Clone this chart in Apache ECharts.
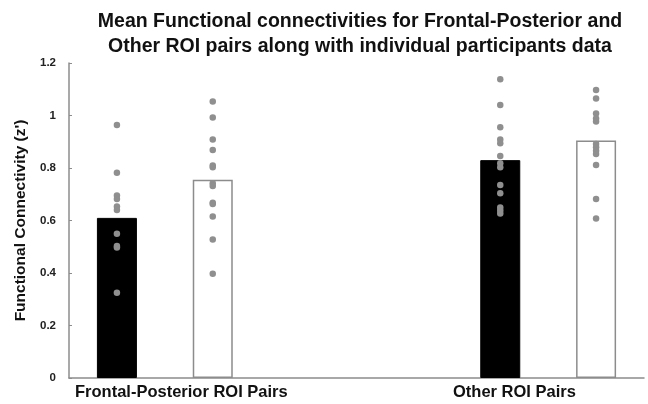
<!DOCTYPE html>
<html>
<head>
<meta charset="utf-8">
<script src="https://cdn.jsdelivr.net/npm/echarts@6/dist/echarts.min.js"></script>
<style>
html,body{margin:0;padding:0;background:#fff;}
#chart{width:648px;height:404px;}
</style>
</head>
<body>
<div id="chart"></div>
<script>
// Title and axis text
var titleText = 'Mean Functional connectivities for Frontal-Posterior and\nOther ROI pairs along with individual participants data';
var yAxisName = "Functional Connectivity (z')";
var groupLabels = ['Frontal-Posterior ROI Pairs', 'Other ROI Pairs'];
var yTicks = [0, 0.2, 0.4, 0.6, 0.8, 1, 1.2];

// x slots: black/white bar for each group, with two empty slots between groups
var slots = ['FP-black', 'FP-white', 'gap-1', 'gap-2', 'Other-black', 'Other-white'];

// mean values (bars)
var frontalPosteriorMeans = [0.61, 0.755];
var otherMeans = [0.83, 0.905];

// individual participant data (dots)
var fpBlackDots = [0.964, 0.782, 0.695, 0.682, 0.653, 0.640, 0.550, 0.503, 0.497, 0.325];
var fpWhiteDots = [1.053, 0.992, 0.909, 0.869, 0.810, 0.803, 0.742, 0.731, 0.668, 0.663, 0.615, 0.528, 0.397];
var otherBlackDots = [1.138, 1.040, 0.955, 0.909, 0.894, 0.846, 0.818, 0.803, 0.735, 0.704, 0.650, 0.638, 0.627];
var otherWhiteDots = [1.097, 1.065, 1.008, 0.989, 0.977, 0.891, 0.879, 0.866, 0.853, 0.811, 0.682, 0.608];

var FONT = 'Liberation Sans, Arial, sans-serif';

var barData = [
  {value: frontalPosteriorMeans[0], itemStyle: {color: '#000', borderColor: '#000', borderWidth: 1}},
  {value: frontalPosteriorMeans[1], itemStyle: {color: '#fff', borderColor: '#8c8c8c', borderWidth: 1.5}},
  '-', '-',
  {value: otherMeans[0], itemStyle: {color: '#000', borderColor: '#000', borderWidth: 1}},
  {value: otherMeans[1], itemStyle: {color: '#fff', borderColor: '#8c8c8c', borderWidth: 1.5}}
];

function dots(slotIndex, values) {
  return values.map(function (v) { return [slots[slotIndex], v]; });
}
var dotData = [].concat(
  dots(0, fpBlackDots), dots(1, fpWhiteDots),
  dots(4, otherBlackDots), dots(5, otherWhiteDots)
);

var chart = echarts.init(document.getElementById('chart'), null, {renderer: 'canvas'});
chart.setOption({
  backgroundColor: '#fff',
  animation: false,
  title: {
    text: titleText,
    left: 355,
    top: 4,
    textAlign: 'center',
    textStyle: {fontFamily: FONT, fontSize: 19.5, fontWeight: 'bold', color: '#111', lineHeight: 25}
  },
  grid: {left: 69, right: 4, top: 63, bottom: 26, containLabel: false},
  xAxis: {
    type: 'category',
    data: slots,
    axisLine: {lineStyle: {color: '#8c8c8c', width: 1.5}},
    axisTick: {show: false},
    axisLabel: {show: false},
    splitLine: {show: false}
  },
  yAxis: {
    type: 'value',
    min: yTicks[0],
    max: yTicks[yTicks.length - 1],
    interval: 0.2,
    name: yAxisName,
    nameLocation: 'middle',
    nameGap: 39,
    nameTextStyle: {fontFamily: FONT, fontSize: 15.5, fontWeight: 'bold', color: '#111'},
    axisLine: {show: true, lineStyle: {color: '#8c8c8c', width: 1.5}},
    axisTick: {show: true, inside: true, length: 3, lineStyle: {color: '#8c8c8c'}},
    axisLabel: {
      fontFamily: FONT, fontSize: 11.5, fontWeight: 'bold', color: '#222', margin: 13,
      formatter: function (v) { return String(Math.round(v * 10) / 10); }
    },
    splitLine: {show: false}
  },
  graphic: [
    {type: 'text', left: 75, top: 384, style: {text: groupLabels[0], font: 'bold 16.5px ' + FONT, fill: '#111'}},
    {type: 'text', left: 453, top: 384, style: {text: groupLabels[1], font: 'bold 16.5px ' + FONT, fill: '#111'}}
  ],
  series: [
    {type: 'bar', data: barData, barWidth: 40, z: 2},
    {
      type: 'scatter', data: dotData, symbol: 'circle', symbolSize: 6.5, z: 5,
      itemStyle: {color: '#8f8f8f', opacity: 1}
    }
  ]
});
</script>
</body>
</html>
